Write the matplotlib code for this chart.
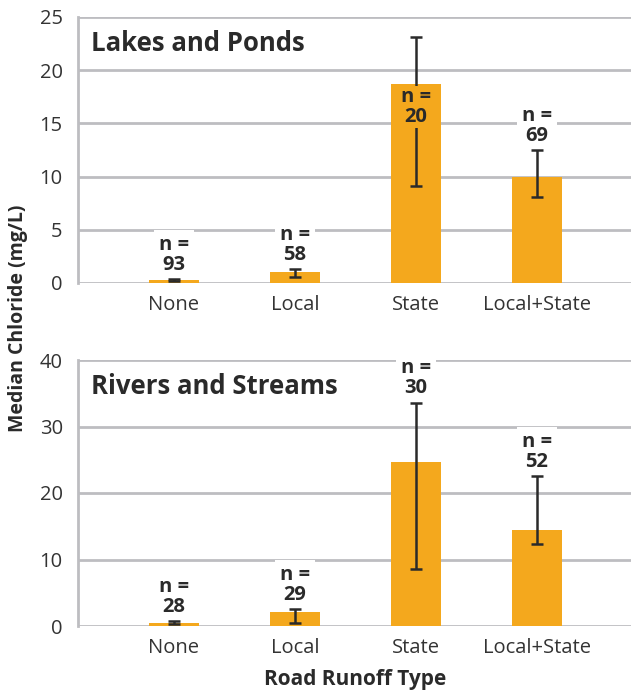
import matplotlib
matplotlib.use("Agg")
import matplotlib.pyplot as plt
import numpy as np

plt.rcParams['font.family'] = ['Open Sans', 'DejaVu Sans']

categories = ["None", "Local", "State", "Local+State"]

lakes_median = [0.3, 1.0, 18.7, 10.0]
lakes_low = [0.2, 0.6, 9.1, 8.1]
lakes_high = [0.35, 1.3, 23.1, 12.5]
lakes_n = [93, 58, 20, 69]

rivers_median = [0.45, 2.1, 24.6, 14.4]
rivers_low = [0.25, 0.4, 8.6, 12.4]
rivers_high = [0.75, 2.6, 33.6, 22.5]
rivers_n = [28, 29, 30, 52]

lakes_ticks = [0, 5, 10, 15, 20, 25]
rivers_ticks = [0, 10, 20, 30, 40]

BAR = '#F4A81D'
GRID = '#BDBDC1'
INK = '#2A2A2A'
TXT = '#333333'

W, H = 631, 692
fig = plt.figure(figsize=(W / 100, H / 100), dpi=100)


def px_axes(left, top, right, bottom):
    return fig.add_axes([left / W, 1 - bottom / H, (right - left) / W, (bottom - top) / H])


def panel(ax, title, med, lo, hi, ns, ticks):
    x = np.arange(len(categories))
    ymax = ticks[-1]
    ax.set_xlim(-0.793, 3.777)
    ax.set_ylim(0, ymax)
    ax.bar(x, med, width=0.413, color=BAR, zorder=2)
    med_a = np.array(med)
    yerr = np.vstack([med_a - np.array(lo), np.array(hi) - med_a])
    ax.errorbar(x, med, yerr=yerr, fmt='none', ecolor=INK, elinewidth=1.8,
                capsize=4.3, capthick=1.8, zorder=3)
    for xi, m, h, n in zip(x, med, hi, ns):
        label = f"n =\n{n}"
        if h > 0.9 * ymax:
            ax.annotate(label, (xi, m), xytext=(0, -2), textcoords='offset points',
                        ha='center', va='top', fontsize=14.5, fontweight='bold',
                        color=INK, linespacing=1.0, zorder=4,
                        bbox=dict(boxstyle='square,pad=0.05', facecolor=BAR,
                                  edgecolor='none'))
        else:
            ax.annotate(label, (xi, h), xytext=(0, 3), textcoords='offset points',
                        ha='center', va='bottom', fontsize=14.5, fontweight='bold',
                        color=INK, linespacing=1.0, zorder=2.5,
                        bbox=dict(boxstyle='square,pad=0.25', facecolor='white',
                                  edgecolor='none'))
    ax.set_yticks(ticks)
    ax.set_xticks(x)
    ax.set_xticklabels(categories)
    ax.yaxis.grid(True, color=GRID, linewidth=2, zorder=0)
    ax.set_axisbelow(True)
    for s in ['top', 'right', 'bottom']:
        ax.spines[s].set_visible(False)
    ax.spines['left'].set_color(GRID)
    ax.spines['left'].set_linewidth(2)
    ax.tick_params(axis='both', length=0, labelsize=14.5, labelcolor=TXT)
    ax.tick_params(axis='y', pad=11)
    ax.tick_params(axis='x', pad=8.5)
    ax.text(0.0235, 0.95, title, transform=ax.transAxes, ha='left', va='top',
            fontsize=18.5, fontweight='bold', color=INK)


ax1 = px_axes(78, 17, 631, 283)
panel(ax1, "Lakes and Ponds", lakes_median, lakes_low, lakes_high, lakes_n, lakes_ticks)

ax2 = px_axes(78, 360, 631, 626)
panel(ax2, "Rivers and Streams", rivers_median, rivers_low, rivers_high, rivers_n, rivers_ticks)

fig.text(18 / W, 1 - 318 / H, "Median Chloride (mg/L)", rotation=90, ha='center',
         va='center', fontsize=14, fontweight='bold', color=INK)
fig.text(355 / W, 1 - 679 / H, "Road Runoff Type", ha='center', va='center',
         fontsize=15, fontweight='bold', color=INK)

fig.savefig("out.png", dpi=100)
